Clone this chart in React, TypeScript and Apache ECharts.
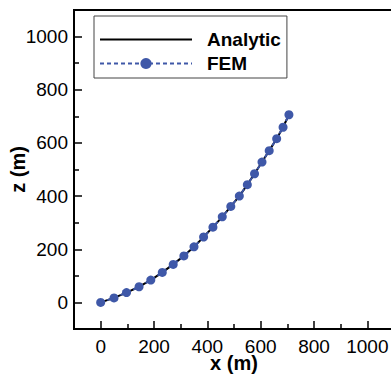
import React, { useEffect, useRef } from "react";
import * as echarts from "echarts";

const femX = [0, 50, 97, 144, 188, 231, 272, 312, 350, 386, 421, 456, 488, 520, 550, 577, 605, 632, 660, 684, 706];
const femZ = [0, 17, 37, 59, 84, 113, 143, 175, 209, 246, 283, 322, 361, 400, 443, 484, 528, 571, 616, 659, 706];
const analyticX = [0, 50, 97, 144, 188, 231, 272, 312, 350, 386, 421, 456, 488, 520, 550, 577, 605, 632, 660, 684, 706];
const analyticZ = [0, 17, 37, 59, 84, 113, 143, 175, 209, 246, 283, 322, 361, 400, 443, 484, 528, 571, 616, 659, 706];
const tickLabels = [0, 200, 400, 600, 800, 1000];

const FONT = "Liberation Sans, Arial, sans-serif";
const BLUE = "#3F58A8";

export default function App() {
  const ref = useRef<HTMLDivElement>(null);
  useEffect(() => {
    if (!ref.current) return;
    const chart = echarts.init(ref.current, null, { renderer: "svg" });
    const fmt = (v: number) => String(v);
    const axisCommon = {
      type: "value" as const,
      min: -100,
      max: 1100,
      interval: 200,
      splitLine: { show: false },
      nameMoveOverlap: false,
      axisLine: { show: true, onZero: false, lineStyle: { color: "#000", width: 2 } },
      axisTick: { show: true, inside: false, length: -5, lineStyle: { color: "#000", width: 1.5 } },
      minorTick: { show: true, splitNumber: 2, length: -8, lineStyle: { color: "#000", width: 1.5 } },
    };
    chart.setOption({
      animation: false,
      backgroundColor: "#fff",
      textStyle: { fontFamily: FONT },
      grid: {
        left: 74,
        top: 10,
        width: 320,
        height: 319,
        show: true,
        borderColor: "#000",
        borderWidth: 2,
        backgroundColor: "transparent",
        outerBoundsMode: "none",
        containLabel: false,
      },
      legend: {
        left: 94,
        top: 16,
        orient: "vertical",
        itemWidth: 92,
        itemHeight: 14,
        itemGap: 5,
        padding: [14, 6, 5, 5],
        borderColor: "#444",
        borderWidth: 1,
        backgroundColor: "#fff",
        textStyle: {
          fontFamily: FONT,
          fontWeight: "bold",
          fontSize: 19,
          lineHeight: 19,
          color: "#000",
          padding: [0, 0, 0, 10],
        },
        data: ["Analytic", "FEM"],
      },
      xAxis: {
        ...axisCommon,
        position: "bottom",
        name: "x (m)",
        nameLocation: "middle",
        nameGap: 24,
        nameTextStyle: { fontFamily: FONT, fontWeight: "bold", fontSize: 20, color: "#000" },
        axisLabel: { show: true, customValues: tickLabels, formatter: fmt, fontFamily: FONT, fontSize: 19, color: "#000", margin: 8 },
      },
      yAxis: {
        ...axisCommon,
        position: "left",
        name: "z (m)",
        nameLocation: "middle",
        nameRotate: 90,
        nameGap: 46,
        nameTextStyle: { fontFamily: FONT, fontWeight: "bold", fontSize: 20, color: "#000" },
        axisLabel: { show: true, customValues: tickLabels, formatter: fmt, fontFamily: FONT, fontSize: 19, color: "#000", margin: 6 },
      },
      series: [
        {
          name: "Analytic",
          type: "line",
          data: analyticX.map((x, i) => [x, analyticZ[i]]),
          showSymbol: false,
          symbol: "none",
          lineStyle: { color: "#000", width: 2 },
          itemStyle: { color: "#000", opacity: 0 },
          z: 2,
        },
        {
          name: "FEM",
          type: "line",
          data: femX.map((x, i) => [x, femZ[i]]),
          symbol: "circle",
          symbolSize: 9,
          showSymbol: true,
          lineStyle: { color: BLUE, width: 2, type: [4, 3] },
          itemStyle: { color: BLUE },
          z: 3,
        },
      ],
    });
    return () => chart.dispose();
  }, []);
  return (
    <div
      ref={ref}
      style={{ position: "fixed", left: 0, top: 0, width: 391, height: 375, background: "#fff" }}
    />
  );
}
